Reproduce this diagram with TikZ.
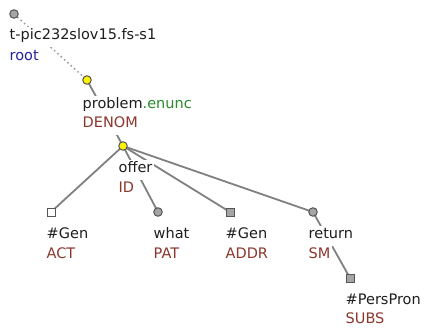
\documentclass[tikz,border=0pt]{standalone}
\usepackage{fontspec}
\setmainfont{DejaVu Sans}
\usepackage{xcolor}
\definecolor{edgegray}{RGB}{128,128,128}
\definecolor{nodeline}{RGB}{85,85,85}
\definecolor{nodefill}{RGB}{165,165,165}
\definecolor{functred}{RGB}{140,55,45}
\definecolor{rootblue}{RGB}{35,35,160}
\definecolor{enuncgrn}{RGB}{40,140,40}
\definecolor{lemmagray}{RGB}{30,30,30}
\usetikzlibrary{backgrounds}
\tikzset{
  tnode/.style={
    circle, draw=nodeline, fill=nodefill, line width=1pt,
    minimum size=8.5pt, inner sep=0pt},
  ynode/.style={tnode, fill=yellow},
  qnode/.style={
    rectangle, draw=nodeline, fill=nodefill, line width=1pt,
    minimum size=8pt, inner sep=0pt},
  lemma/.style={
    anchor=base west, fill=white, inner sep=1.5pt, text=lemmagray,
    text height=11pt, text depth=6pt,
    font=\fontsize{14.5}{17}\selectfont},
  funct/.style={lemma, text=functred},
  edge/.style={edgegray, line width=1.8pt},
  rootedge/.style={edgegray!80, line width=1.5pt, dash pattern=on 1.5pt off 3pt},
}

\begin{document}
\begin{tikzpicture}[x=1pt, y=-1pt]
  \useasboundingbox (0,0) rectangle (425,329);
  % tree nodes
  \node[tnode] (root) at (14,14) {};
  \node[ynode] (problem) at (87,80) {};
  \node[ynode] (offer) at (123,146) {};
  \node[qnode, fill=white] (act) at (51,212) {};
  \node[tnode] (pat) at (158,212) {};
  \node[qnode] (addr) at (230,212) {};
  \node[tnode] (sm) at (313,212) {};
  \node[qnode] (subs) at (350,278) {};
  % labels
  \node[lemma] (rootl) at (8,40) {t-pic232slov15.fs-s1};
  \node[lemma, text=rootblue] (rootf) at (8,60) {root};
  \node[lemma] (probleml) at (81,108) {problem{\color{enuncgrn}.enunc}};
  \node[funct] (problemf) at (81,127) {DENOM};
  \node[lemma] (offerl) at (117,172) {offer};
  \node[funct] (offerf) at (117,192) {ID};
  \node[lemma] (actl) at (45,238) {\#Gen};
  \node[funct] (actf) at (45,258) {ACT};
  \node[lemma] (patl) at (152,238) {what};
  \node[funct] (patf) at (152,258) {PAT};
  \node[lemma] (addrl) at (224,238) {\#Gen};
  \node[funct] (addrf) at (224,258) {ADDR};
  \node[lemma] (sml) at (307,238) {return};
  \node[funct] (smf) at (307,258) {SM};
  \node[lemma] (subsl) at (344,304) {\#PersPron};
  \node[funct] (subsf) at (344,323) {SUBS};
  % edges
  \begin{scope}[on background layer]
    \draw[rootedge] (root.center) -- (problem.center);
    \draw[edge] (problem.center) -- (offer.center);
    \draw[edge] (offer.center) -- (act.center);
    \draw[edge] (offer.center) -- (pat.center);
    \draw[edge] (offer.center) -- (addr.center);
    \draw[edge] (offer.center) -- (sm.center);
    \draw[edge] (sm.center) -- (subs.center);
  \end{scope}
\end{tikzpicture}
\end{document}
